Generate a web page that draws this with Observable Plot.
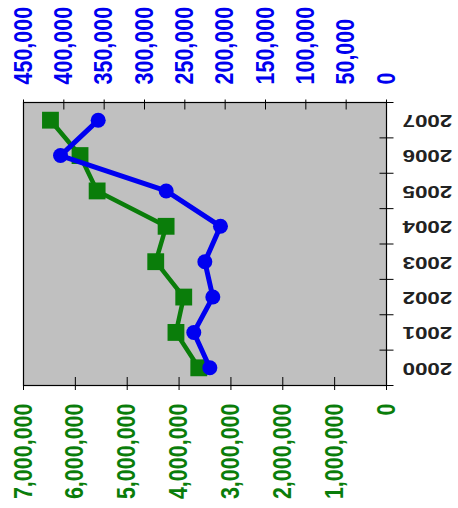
<!DOCTYPE html>
<html>
<head>
<meta charset="utf-8">
<script src="https://cdn.jsdelivr.net/npm/d3@7"></script>
<script src="https://cdn.jsdelivr.net/npm/@observablehq/plot@0.6"></script>
<style>
  html, body { margin: 0; padding: 0; background: white; }
</style>
</head>
<body>
<div id="chart"></div>
<script>
const years = [2000, 2001, 2002, 2003, 2004, 2005, 2006, 2007];
const greenValues = [3620000, 4060000, 3910000, 4450000, 4250000, 5580000, 5910000, 6480000];
const blueValues = [219000, 238900, 215300, 225200, 205800, 273100, 404100, 357400];
const greenTicks = [0, 1000000, 2000000, 3000000, 4000000, 5000000, 6000000, 7000000];
const blueTicks = [0, 50000, 100000, 150000, 200000, 250000, 300000, 350000, 400000, 450000];
const yearBoundaries = [1999.5, 2000.5, 2001.5, 2002.5, 2003.5, 2004.5, 2005.5, 2006.5, 2007.5];

const greenMax = 7000000, blueMax = 450000;
const k = greenMax / blueMax;

const data = years.map((y, i) => ({year: y, green: greenValues[i], blue: blueValues[i] * k}));
const fmt = d3.format(",");

const GREEN = "#0a7d0a", BLUE = "#0000f0";

const chart = Plot.plot({
  width: 458,
  height: 508,
  marginLeft: 23,
  marginRight: 72,
  marginTop: 102,
  marginBottom: 123,
  x: {domain: [0, greenMax], reverse: true, axis: null, label: null},
  y: {domain: [1999.5, 2007.5], axis: null, label: null},
  style: {fontFamily: "Liberation Sans, Arial, sans-serif", background: "white"},
  marks: [
    Plot.frame({fill: "#c0c0c0"}),
    Plot.line(data, {x: "green", y: "year", stroke: GREEN, strokeWidth: 4.5}),
    Plot.dot(data, {x: "green", y: "year", symbol: "square", r: 9.5, fill: GREEN}),
    Plot.line(data, {x: "blue", y: "year", stroke: BLUE, strokeWidth: 5}),
    Plot.dot(data, {x: "blue", y: "year", r: 7.5, fill: BLUE}),
    Plot.frame({stroke: "black", strokeWidth: 1.2}),
    // bottom green axis
    Plot.axisX({anchor: "bottom", ticks: greenTicks, tickSize: 13, dy: -8, tickFormat: () => "", label: null, stroke: "black"}),
    Plot.axisX({anchor: "bottom", ticks: greenTicks, tickSize: 0, tickPadding: 18, tickRotate: -90,
      textAnchor: "end", lineAnchor: "middle", tickFormat: fmt, label: null,
      fill: GREEN, fontSize: 25, fontWeight: "bold"}),
    // top blue axis
    Plot.axisX({anchor: "top", ticks: blueTicks.map(v => v * k), tickSize: 10, dy: 6.5, tickFormat: () => "", label: null, stroke: "black"}),
    Plot.axisX({anchor: "top", ticks: blueTicks.map(v => v * k), tickSize: 0, tickPadding: 18, tickRotate: -90,
      textAnchor: "start", lineAnchor: "middle", tickFormat: d => fmt(Math.round(d / k)), label: null,
      fill: BLUE, fontSize: 25, fontWeight: "bold"}),
    // right year axis
    Plot.axisY({anchor: "right", ticks: yearBoundaries, tickSize: 14, dx: -7.5, tickFormat: () => "", label: null, stroke: "black"}),
    Plot.axisY({anchor: "right", ticks: years, tickSize: 0, tickPadding: 16, tickRotate: 180,
      textAnchor: "end", lineAnchor: "middle", tickFormat: d => String(d), label: null,
      fill: "#222", fontSize: 16, fontWeight: "bold"})
  ]
});
// the reference's lettering is stretched horizontally: widen years, narrow the rotated value labels
const svg = d3.select(chart);
svg.selectAll('g[aria-label="y-axis tick label"] text').each(function() {
  this.setAttribute("transform", (this.getAttribute("transform") || "") + " scale(1.4,1)");
});
svg.selectAll('g[aria-label="x-axis tick label"] text').each(function() {
  this.setAttribute("transform", (this.getAttribute("transform") || "") + " scale(0.86,1)");
});
document.getElementById("chart").appendChild(chart);
</script>
</body>
</html>
